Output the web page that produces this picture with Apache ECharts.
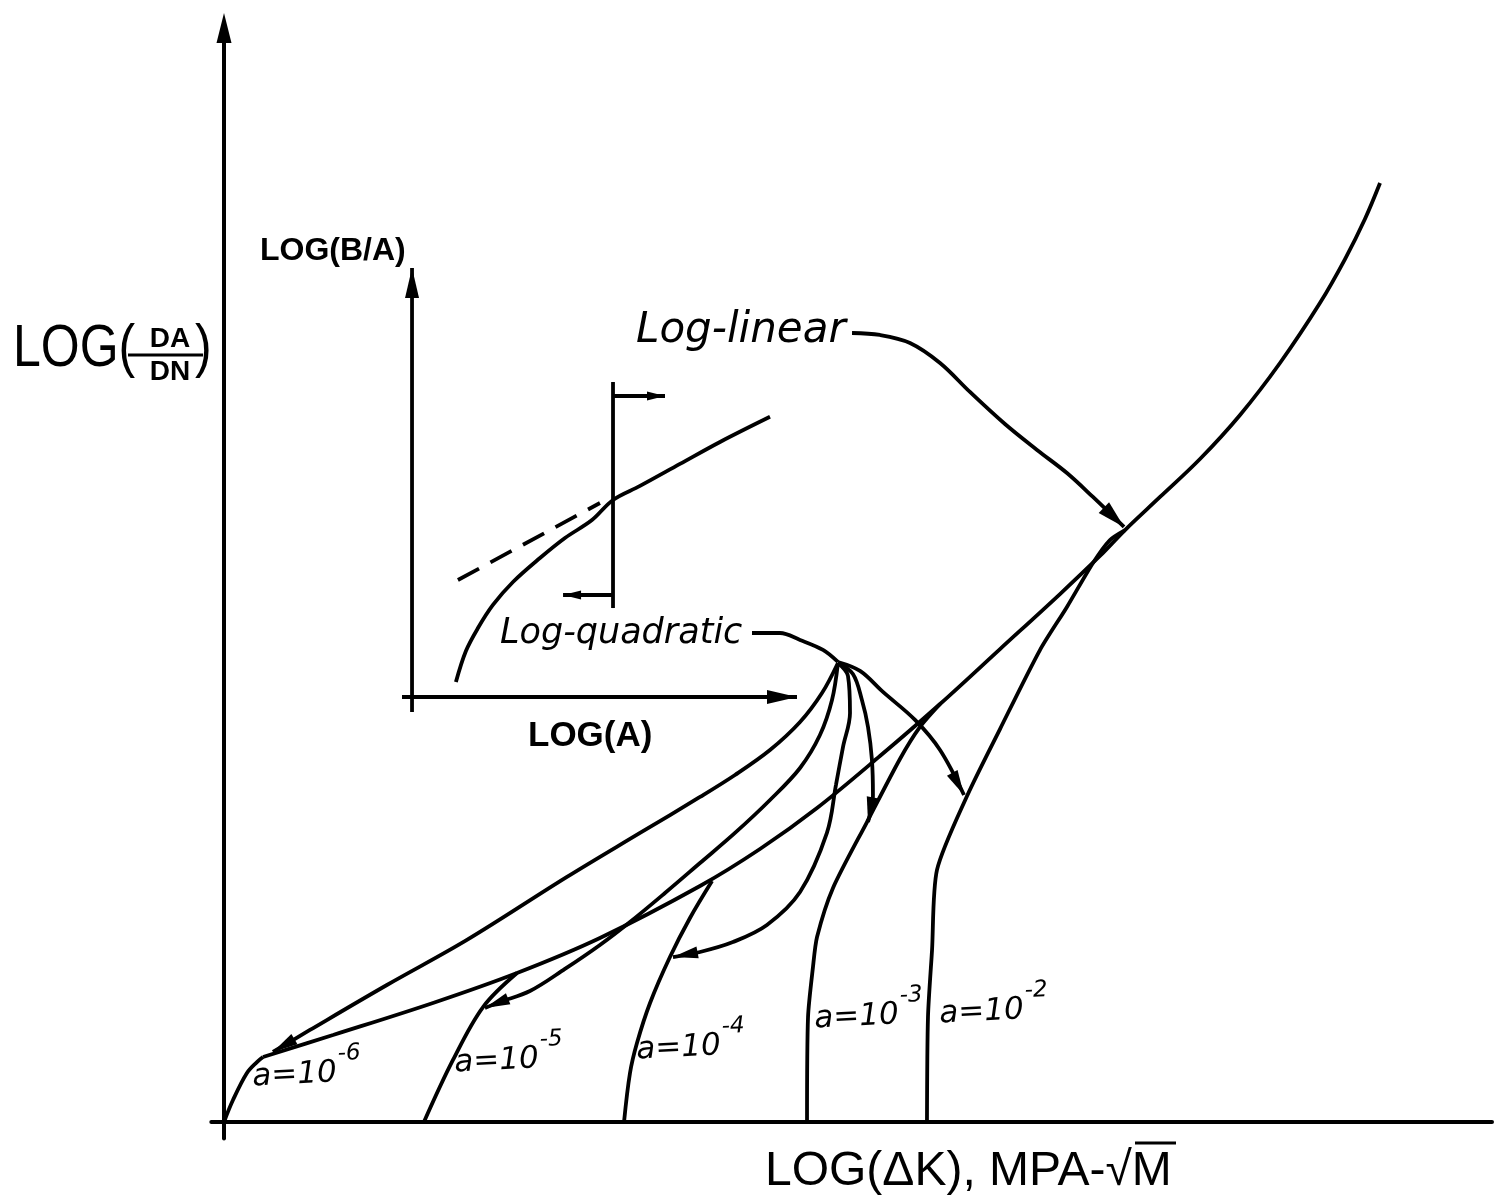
<!DOCTYPE html>
<html><head><meta charset="utf-8">
<script src="https://cdn.jsdelivr.net/npm/echarts@6/dist/echarts.min.js"></script>
<style>html,body{margin:0;padding:0;background:#fff}#c{width:1499px;height:1202px}</style>
</head><body><div id="c"></div>
<script>
// ---- schematic values (x: log dK units 0-100, y: log da/dN units 0-100)
const envelopeCurve = [[3.08,5.94],[8.60,7.95],[16.48,10.88],[23.11,13.62],[29.65,16.82],[37.54,21.57],[42.27,24.95],[46.77,28.70],[51.73,33.45],[56.47,38.21],[61.20,43.23],[65.93,48.26],[69.08,51.74],[71.06,54.11],[73.82,57.13],[76.97,60.60],[80.13,64.63],[83.28,69.38],[86.43,74.86],[88.41,78.88],[89.98,82.54],[91.17,85.83]];
const crack6 = [[0,0],[0.71,2.01],[1.81,4.48],[2.60,5.48],[3.08,5.94]];
const crack5 = [[15.77,0],[18.06,5.67],[20.43,10.51],[23.11,13.62]];
const crack4 = [[31.55,0],[32.02,4.48],[32.57,7.22],[33.60,10.88],[35.17,15.08],[36.75,18.65],[38.49,22.03]];
const crack3 = [[45.98,0],[46.06,9.60],[46.45,14.17],[46.77,16.91],[48.03,21.39],[50.71,27.42],[53.31,33.18],[54.89,36.11],[56.47,38.21]];
const crack2 = [[55.44,0],[55.52,9.60],[55.84,15.72],[56.23,23.04],[58.60,29.80],[61.20,35.92],[64.35,43.14],[66.48,47.08],[68.53,51.10],[69.87,53.20],[71.06,54.11]];
const fan6 = [[48.42,41.96],[47.16,39.21],[45.43,36.56],[43.06,34.00],[40.30,31.72],[37.54,29.71],[32.81,26.42],[27.05,22.40],[19.16,16.64],[12.85,12.52],[6.78,8.41],[3.86,6.40]];
const fan5 = [[48.42,41.96],[47.95,38.57],[47.00,35.37],[45.43,32.36],[43.06,29.43],[40.30,26.42],[37.54,23.67],[34.78,20.93],[32.02,18.28],[29.65,16.18],[26.89,13.99],[24.13,11.97],[21.77,10.97],[20.58,10.42]];
const fan4 = [[48.42,41.96],[49.21,40.77],[49.37,37.39],[48.82,34.28],[48.26,30.80],[47.55,26.42],[45.43,21.02],[42.82,18.01],[40.14,16.45],[37.54,15.54],[35.41,15.08]];
const fan3 = [[48.42,41.96],[49.60,40.95],[50.31,38.57],[50.79,36.11],[51.10,33.09],[51.18,29.80],[50.79,27.42]];
const fan2 = [[48.42,42.05],[50.16,41.23],[51.97,39.31],[54.50,36.75],[56.47,34.00],[58.36,29.89]];
const leaderQuad = [[41.64,44.70],[43.85,44.70],[45.43,44.06],[47.24,43.15],[48.42,42.05]];
const leaderLin = [[49.53,72.12],[51.73,71.94],[54.10,71.21],[56.47,69.38],[58.83,66.73],[61.59,63.80],[64.12,61.43],[66.48,59.32],[68.53,57.13],[70.98,54.39]];
// inset sketch
const insetCurve = [[18.29,40.22],[19.08,43.05],[20.03,45.15],[21.21,47.26],[22.79,49.36],[24.92,51.55],[26.89,53.38],[29.02,55.02],[30.68,56.86],[32.81,58.14],[35.96,60.15],[39.12,62.16],[43.06,64.46]];
const insetTangent = [[18.45,49.54],[29.65,56.58]];
const insetMarker = [[30.68,67.64],[30.68,46.98]];
const insetYAxis = [[14.83,37.48],[14.83,78.06]];
const insetXAxis = [[14.04,38.85],[45.19,38.85]];
const arrowRight = [[30.68,66.36],[34.78,66.36]];
const arrowLeft = [[30.68,48.17],[26.74,48.17]];
const crackLabels = [
  {base:'a=10', exp:'-6'}, {base:'a=10', exp:'-5'}, {base:'a=10', exp:'-4'},
  {base:'a=10', exp:'-3'}, {base:'a=10', exp:'-2'}
];

// ---- styles / layout
const INK = '#000';
const LW = 3.8;
const labelPos = [[252,1070],[454,1056],[636,1043],[814,1012],[939,1007]];
const tail = (arr) => [arr[arr.length - 2], arr[arr.length - 1]];
const arrowDefs = [
  {seg: tail(fan6), len: 25, w: 12},
  {seg: tail(fan5), len: 25, w: 12},
  {seg: tail(fan4), len: 25, w: 12},
  {seg: tail(fan3), len: 25, w: 12},
  {seg: tail(fan2), len: 25, w: 12},
  {seg: tail(leaderLin), len: 28, w: 15},
  {seg: insetYAxis, len: 30, w: 14},
  {seg: insetXAxis, len: 30, w: 14},
  {seg: arrowRight, len: 18, w: 9},
  {seg: arrowLeft, len: 18, w: 9}
];

function lineSeries(data, extra) {
  return Object.assign({
    type: 'line', data: data, showSymbol: false, symbol: 'none', smooth: 0.35,
    lineStyle: {color: INK, width: LW}, silent: true, animation: false, clip: false, z: 3
  }, extra || {});
}

const series = [
  lineSeries(envelopeCurve), lineSeries(crack6), lineSeries(crack5), lineSeries(crack4),
  lineSeries(crack3, {smooth: 0.25}), lineSeries(crack2, {smooth: 0.25}),
  lineSeries(fan6), lineSeries(fan5), lineSeries(fan4), lineSeries(fan3), lineSeries(fan2),
  lineSeries(leaderQuad), lineSeries(leaderLin),
  lineSeries(insetCurve),
  lineSeries(insetTangent, {smooth: false, lineStyle: {color: INK, width: LW, type: [24, 13]}}),
  lineSeries(insetMarker, {smooth: false}),
  lineSeries(insetYAxis, {smooth: false}), lineSeries(insetXAxis, {smooth: false}),
  lineSeries(arrowRight, {smooth: false}), lineSeries(arrowLeft, {smooth: false}),
  {
    type: 'custom', coordinateSystem: 'cartesian2d', silent: true, animation: false, z: 5,
    data: arrowDefs.map(a => a.seg[1]),
    renderItem: function (params, api) {
      const a = arrowDefs[params.dataIndex];
      const p1 = api.coord(a.seg[0]), p2 = api.coord(a.seg[1]);
      const dx = p2[0] - p1[0], dy = p2[1] - p1[1];
      const d = Math.hypot(dx, dy) || 1;
      const ux = dx / d, uy = dy / d, hw = a.w / 2;
      const bx = p2[0] - ux * a.len, by = p2[1] - uy * a.len;
      return {type: 'polygon', shape: {points: [[p2[0], p2[1]], [bx - uy * hw, by + ux * hw], [bx + uy * hw, by - ux * hw]]}, style: {fill: INK}};
    }
  }
];

const sansFont = '"Liberation Sans", Arial, sans-serif';
const handFont = '"DejaVu Sans", sans-serif';
const graphics = [
  {type: 'text', x: 13, y: 349, scaleY: 1.2, style: {text: 'LOG(', font: '50px ' + sansFont, fill: INK, align: 'left', verticalAlign: 'middle'}},
  {type: 'text', x: 170, y: 339, style: {text: 'DA', font: 'bold 28px ' + sansFont, fill: INK, align: 'center', verticalAlign: 'middle'}},
  {type: 'line', shape: {x1: 128, y1: 355, x2: 203, y2: 355}, style: {stroke: INK, lineWidth: 3}},
  {type: 'text', x: 170, y: 372, style: {text: 'DN', font: 'bold 28px ' + sansFont, fill: INK, align: 'center', verticalAlign: 'middle'}},
  {type: 'text', x: 195, y: 349, scaleY: 1.2, style: {text: ')', font: '50px ' + sansFont, fill: INK, align: 'left', verticalAlign: 'middle'}},
  {type: 'text', x: 765, y: 1172, style: {text: 'LOG(ΔK), MPA-√M', font: '48px ' + sansFont, fill: INK, align: 'left', verticalAlign: 'middle'}},
  {type: 'line', shape: {x1: 1135, y1: 1143, x2: 1176, y2: 1143}, style: {stroke: INK, lineWidth: 3}},
  {type: 'text', x: 260, y: 251, style: {text: 'LOG(B/A)', font: 'bold 32px ' + sansFont, fill: INK, align: 'left', verticalAlign: 'middle'}},
  {type: 'text', x: 528, y: 736, style: {text: 'LOG(A)', font: 'bold 35px ' + sansFont, fill: INK, align: 'left', verticalAlign: 'middle'}},
  {type: 'text', x: 636, y: 331, style: {text: 'Log-linear', font: 'italic 42px ' + handFont, fill: INK, align: 'left', verticalAlign: 'middle'}},
  {type: 'text', x: 500, y: 634, style: {text: 'Log-quadratic', font: 'italic 35px ' + handFont, fill: INK, align: 'left', verticalAlign: 'middle'}}
];
crackLabels.forEach((l, i) => {
  graphics.push({
    type: 'text', x: labelPos[i][0], y: labelPos[i][1], rotation: 0.05,
    style: {
      text: '{b|' + l.base + '}{s|' + l.exp + '}', fill: INK, align: 'left', verticalAlign: 'middle',
      rich: {
        b: {font: 'italic 31px ' + handFont, fill: INK, verticalAlign: 'bottom', lineHeight: 46},
        s: {font: 'italic 23px ' + handFont, fill: INK, verticalAlign: 'top', lineHeight: 46, padding: [0, 0, 0, 2]}
      }
    }
  });
});

const chart = echarts.init(document.getElementById('c'), null, {renderer: 'canvas'});
chart.setOption({
  backgroundColor: '#fff',
  animation: false,
  grid: {left: 211.3, right: 7, top: 28, bottom: 63.6, containLabel: false, outerBoundsMode: 'none'},
  xAxis: {
    type: 'value', min: -1, max: 100,
    axisLine: {show: true, onZero: true, lineStyle: {color: INK, width: 4}},
    axisTick: {show: false}, axisLabel: {show: false}, splitLine: {show: false}
  },
  yAxis: {
    type: 'value', min: -1.5, max: 100,
    axisLine: {show: true, onZero: true, symbol: ['none', 'path://M0,0 L1,4 L-1,4 Z'], symbolSize: [15, 30], lineStyle: {color: INK, width: 4}},
    axisTick: {show: false}, axisLabel: {show: false}, splitLine: {show: false}
  },
  series: series,
  graphic: {elements: graphics}
});
</script>
</body></html>
